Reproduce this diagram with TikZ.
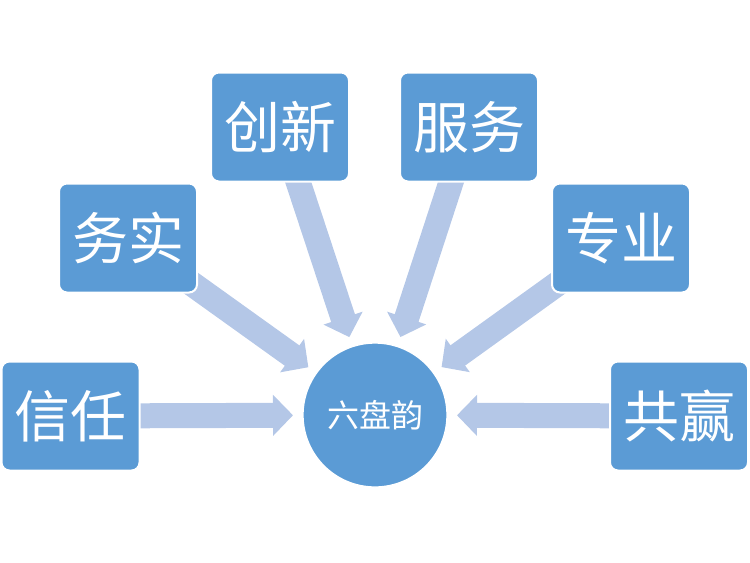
\documentclass[tikz,border=0pt]{standalone}
\usepackage{fontspec}
\newfontfamily\cjk{Noto Sans CJK SC}
\usetikzlibrary{arrows.meta,backgrounds}
\definecolor{boxblue}{RGB}{91,155,213}
\definecolor{arrowblue}{RGB}{180,199,231}
\tikzset{
  valuebox/.style={rectangle, rounded corners=6pt, fill=boxblue, draw=white, line width=1.5pt,
    minimum width=103.5pt, minimum height=81.75pt, inner sep=0pt, text=white,
    font=\cjk\fontsize{42}{44}\selectfont},
  hub/.style={circle, fill=boxblue, draw=white, line width=1pt, minimum size=108pt, inner sep=0pt,
    text=white, font=\cjk\fontsize{24}{26}\selectfont},
  blockarrow/.style={draw=arrowblue, line width=18.75pt,
    -{Triangle[length=15pt,width=30pt,fill=arrowblue,color=arrowblue]}, shorten >=7pt}
}
\begin{document}
\begin{tikzpicture}[x=0.75pt,y=-0.75pt]
\useasboundingbox (0,0) rectangle (750,562);
\node[hub] (hub) at (375,415) {六盘韵};
\node[valuebox] (xinren) at (70.5,416) {信任};
\node[valuebox] (wushi) at (128,238) {务实};
\node[valuebox] (chuangxin) at (280,127) {创新};
\node[valuebox] (fuwu) at (469,127) {服务};
\node[valuebox] (zhuanye) at (621,238) {专业};
\node[valuebox] (gongying) at (679,416) {共赢};
\begin{scope}[on background layer]
\foreach \n in {xinren,wushi,chuangxin,fuwu,zhuanye,gongying}
  \draw[blockarrow] (\n.center) -- (hub);
\end{scope}
\end{tikzpicture}
\end{document}
